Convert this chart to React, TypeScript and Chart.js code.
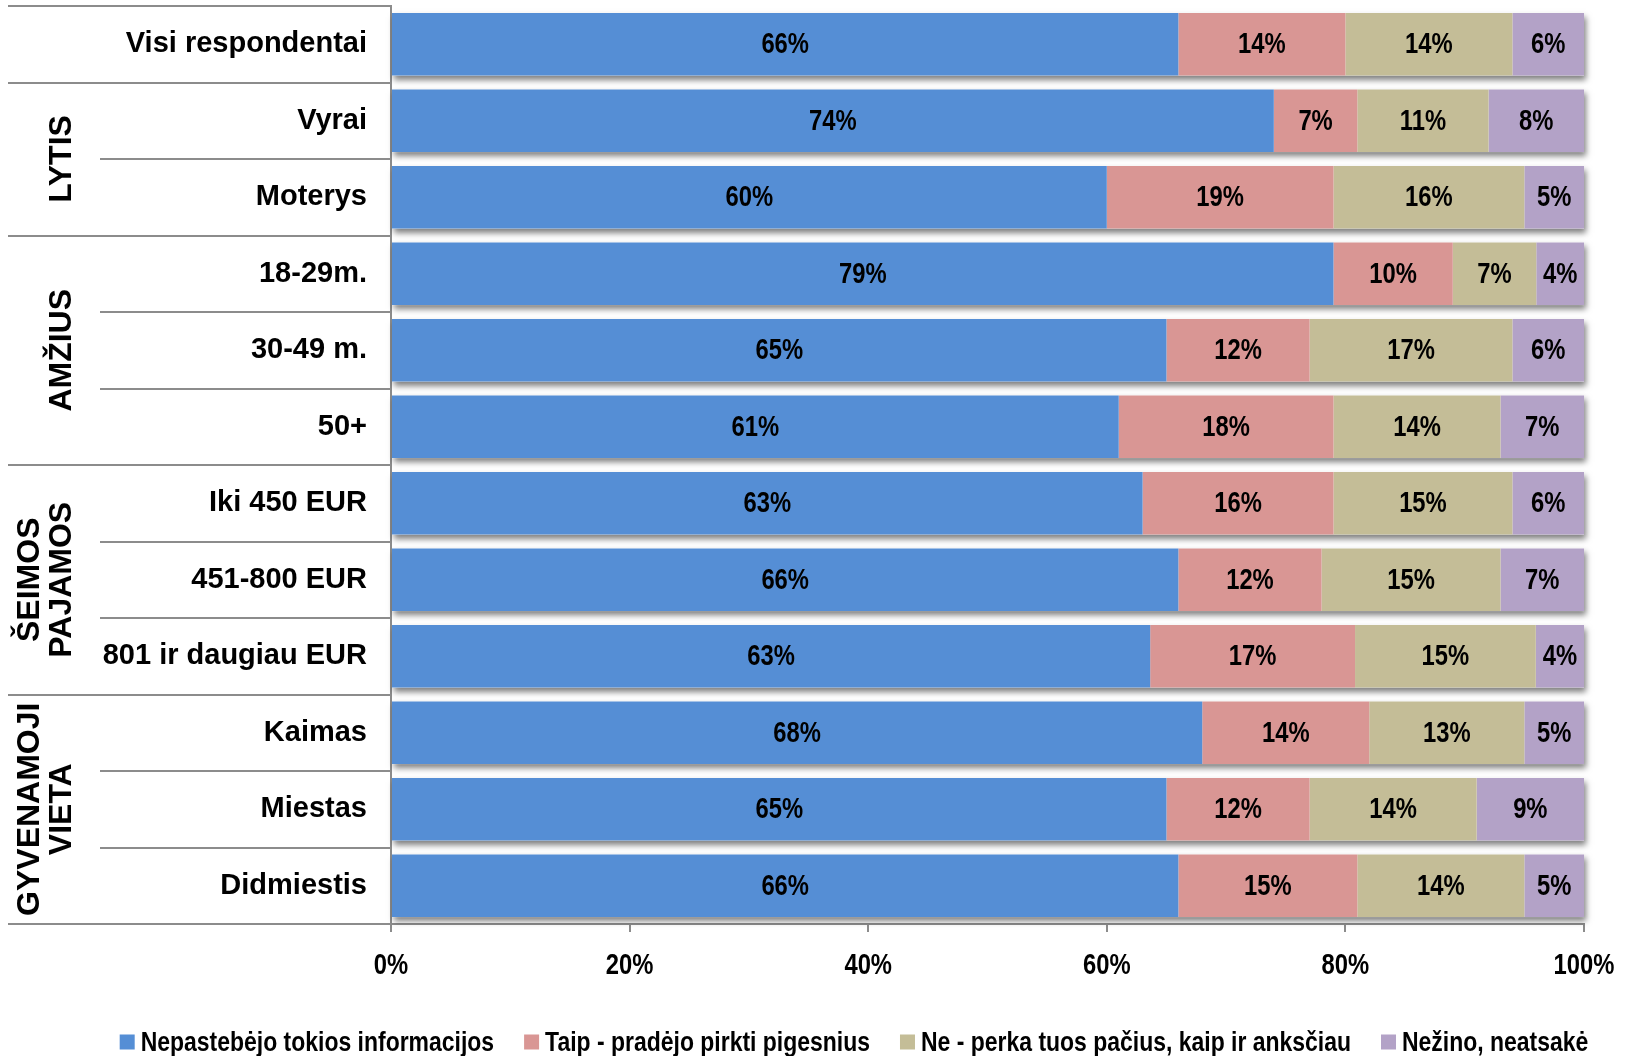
import React, { useEffect, useRef } from 'react';
import { Chart, registerables } from 'chart.js';

Chart.register(...registerables);

const categories = [
  'Visi respondentai',
  'Vyrai',
  'Moterys',
  '18-29m.',
  '30-49 m.',
  '50+',
  'Iki 450 EUR',
  '451-800 EUR',
  '801 ir daugiau EUR',
  'Kaimas',
  'Miestas',
  'Didmiestis',
];

const seriesNames = [
  'Nepastebėjo tokios informacijos',
  'Taip - pradėjo pirkti pigesnius',
  'Ne - perka tuos pačius, kaip ir anksčiau',
  'Nežino, neatsakė',
];

const nepastebejo = [66, 74, 60, 79, 65, 61, 63, 66, 63, 68, 65, 66];
const taip = [14, 7, 19, 10, 12, 18, 16, 12, 17, 14, 12, 15];
const ne = [14, 11, 16, 7, 17, 14, 15, 15, 15, 13, 14, 14];
const nezino = [6, 8, 5, 4, 6, 7, 6, 7, 4, 5, 9, 5];

const seriesColors = ['#558ED5', '#D99694', '#C4BD97', '#B3A2C7'];

const xTicks = [0, 20, 40, 60, 80, 100];

const groupNames = [['LYTIS'], ['AMŽIUS'], ['ŠEIMOS', 'PAJAMOS'], ['GYVENAMOJI', 'VIETA']];
const groupStart = [1, 3, 6, 9];
const groupSize = [2, 3, 3, 3];

const seriesValues = [nepastebejo, taip, ne, nezino];
const rowTotals = categories.map((_, j) => seriesValues.reduce((s, arr) => s + arr[j], 0));

const SANS = '"Liberation Sans", Arial, sans-serif';
const LABEL_FONT = `bold 29px ${SANS}`;
const LEGEND_FONT = `bold 28px ${SANS}`;
const NARROW_SCALE = 0.82;
const LINE_COLOR = '#8c8c8c';

function drawNarrow(
  ctx: CanvasRenderingContext2D,
  font: string,
  text: string,
  x: number,
  y: number,
  align: 'left' | 'center'
) {
  ctx.save();
  ctx.font = font;
  ctx.textBaseline = 'middle';
  ctx.textAlign = align;
  ctx.translate(x, y);
  ctx.scale(NARROW_SCALE, 1);
  ctx.fillText(text, 0, 0);
  ctx.restore();
}

function narrowWidth(ctx: CanvasRenderingContext2D, font: string, text: string) {
  ctx.save();
  ctx.font = font;
  const w = ctx.measureText(text).width * NARROW_SCALE;
  ctx.restore();
  return w;
}

const shadowPlugin = {
  id: 'barShadow',
  beforeDatasetsDraw(chart: any) {
    const ctx = chart.ctx;
    const metas = chart.data.datasets.map((_: any, i: number) => chart.getDatasetMeta(i));
    ctx.save();
    ctx.shadowColor = 'rgba(0,0,0,0.5)';
    ctx.shadowBlur = 6;
    ctx.shadowOffsetX = 2;
    ctx.shadowOffsetY = 4;
    ctx.fillStyle = '#ffffff';
    categories.forEach((_, j) => {
      let left = Infinity;
      let right = -Infinity;
      let top = 0;
      let h = 0;
      metas.forEach((m: any) => {
        const el = m.data[j];
        if (!el) return;
        const p = el.getProps(['x', 'y', 'base', 'height'], true);
        left = Math.min(left, p.base, p.x);
        right = Math.max(right, p.base, p.x);
        top = p.y - p.height / 2;
        h = p.height;
      });
      if (isFinite(left)) ctx.fillRect(left, top, right - left, h);
    });
    ctx.restore();
  },
};

const labelPlugin = {
  id: 'segLabels',
  afterDatasetsDraw(chart: any) {
    const ctx = chart.ctx;
    ctx.save();
    ctx.fillStyle = '#000';
    chart.data.datasets.forEach((_: any, i: number) => {
      const meta = chart.getDatasetMeta(i);
      meta.data.forEach((el: any, j: number) => {
        const p = el.getProps(['x', 'y', 'base'], true);
        drawNarrow(ctx, LABEL_FONT, seriesValues[i][j] + '%', (p.x + p.base) / 2, p.y + 1, 'center');
      });
    });
    ctx.restore();
  },
};

const tablePlugin = {
  id: 'sideTable',
  afterDraw(chart: any) {
    const { ctx, chartArea } = chart;
    const n = categories.length;
    const band = (chartArea.bottom - chartArea.top) / n;
    const edges = new Set<number>([0, ...groupStart, n]);
    ctx.save();
    ctx.strokeStyle = LINE_COLOR;
    ctx.lineWidth = 2;
    for (let k = 0; k <= n; k++) {
      const yy = Math.round(chartArea.top + k * band);
      const x0 = edges.has(k) ? 8 : 100;
      ctx.beginPath();
      ctx.moveTo(x0, yy);
      ctx.lineTo(chartArea.left, yy);
      ctx.stroke();
    }
    ctx.fillStyle = '#000';
    ctx.font = `bold 32px ${SANS}`;
    ctx.textAlign = 'center';
    ctx.textBaseline = 'middle';
    groupNames.forEach((lines, g) => {
      const cy = chartArea.top + (groupStart[g] + groupSize[g] / 2) * band;
      lines.forEach((t, i) => {
        const cx = 62 - (lines.length - 1 - i) * 32;
        ctx.save();
        ctx.translate(cx, cy);
        ctx.rotate(-Math.PI / 2);
        ctx.fillText(t, 0, 0);
        ctx.restore();
      });
    });

    // x tick labels
    const xs = chart.scales.x;
    ctx.fillStyle = '#000';
    xTicks.forEach((v) => {
      drawNarrow(ctx, LABEL_FONT, v + '%', xs.getPixelForValue(v), chartArea.bottom + 42, 'center');
    });

    // legend
    const boxSize = 15;
    const boxGap = 6;
    const itemGap = 30;
    const widths = seriesNames.map((t) => narrowWidth(ctx, LEGEND_FONT, t));
    const total =
      widths.reduce((s, w) => s + boxSize + boxGap + w, 0) + itemGap * (seriesNames.length - 1);
    const legendCenter = 854;
    const ly = 1042;
    let x = legendCenter - total / 2;
    seriesNames.forEach((t, i) => {
      ctx.fillStyle = seriesColors[i];
      ctx.fillRect(x, ly - boxSize / 2, boxSize, boxSize);
      ctx.fillStyle = '#000';
      drawNarrow(ctx, LEGEND_FONT, t, x + boxSize + boxGap, ly + 1, 'left');
      x += boxSize + boxGap + widths[i] + itemGap;
    });
    ctx.restore();
  },
};

export default function App() {
  const canvasRef = useRef<HTMLCanvasElement | null>(null);

  useEffect(() => {
    const canvas = canvasRef.current;
    if (!canvas) return;
    const chart = new Chart(canvas, {
      type: 'bar',
      data: {
        labels: categories,
        datasets: seriesNames.map((name, i) => ({
          label: name,
          data: seriesValues[i].map((v, j) => (v / rowTotals[j]) * 100),
          backgroundColor: seriesColors[i],
          borderWidth: 0,
          barPercentage: 0.82,
          categoryPercentage: 1,
          clip: false as any,
        })),
      },
      options: {
        animation: false,
        responsive: false,
        indexAxis: 'y',
        layout: { padding: { left: 8, right: 56, top: 6, bottom: 56.5 } },
        plugins: {
          legend: { display: false },
          tooltip: { enabled: false },
        },
        scales: {
          x: {
            stacked: true,
            min: 0,
            max: 100,
            afterBuildTicks: (s: any) => {
              s.ticks = xTicks.map((v) => ({ value: v }));
            },
            ticks: { display: false },
            grid: {
              drawOnChartArea: false,
              drawTicks: true,
              tickLength: 8,
              color: LINE_COLOR,
              lineWidth: 2,
            },
            border: { color: LINE_COLOR, width: 2 },
            afterFit: (s: any) => {
              s.height = 75.5;
              s.paddingLeft = 0;
              s.paddingRight = 0;
            },
          },
          y: {
            stacked: true,
            ticks: {
              color: '#000',
              font: { family: SANS, size: 29, weight: 'bold' },
              padding: 24,
            },
            grid: { display: false, drawTicks: false },
            border: { color: LINE_COLOR, width: 2 },
            afterFit: (s: any) => {
              s.width = 383;
              s.paddingTop = 0;
              s.paddingBottom = 0;
            },
          },
        },
      } as any,
      plugins: [shadowPlugin, labelPlugin, tablePlugin],
    });
    return () => chart.destroy();
  }, []);

  return (
    <div style={{ position: 'fixed', left: 0, top: 0, width: 1640, height: 1056, background: '#fff' }}>
      <canvas ref={canvasRef} width={1640} height={1056} style={{ display: 'block' }} />
    </div>
  );
}
